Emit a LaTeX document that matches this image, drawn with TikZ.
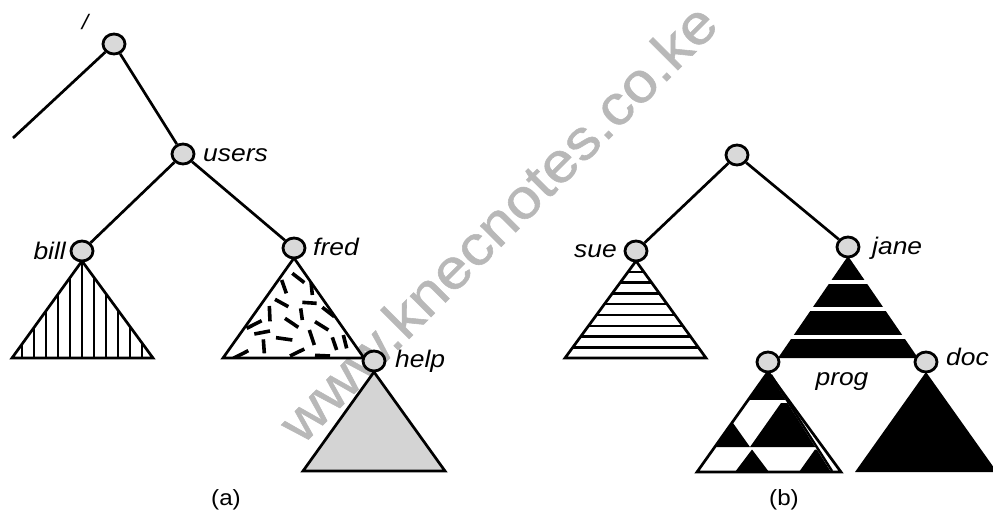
\documentclass[tikz,border=0pt]{standalone}
\usepackage{fontspec}
\setmainfont{Liberation Sans}
\newfontfamily\lab[FakeStretch=1.1]{Liberation Sans}
\newfontfamily\wmfont[FakeStretch=1.1,FakeBold=1]{Liberation Sans}
\usetikzlibrary{shapes.geometric}
\tikzset{
 vert/.style={ellipse, draw=black, fill=black!15, line width=2.8pt, minimum width=22pt, minimum height=20pt, inner sep=0pt},
 edge/.style={line width=2.7pt},
 tri/.style={line width=2.7pt, line join=miter},
 lbl/.style={inner sep=0pt, font=\lab\itshape\fontsize{24}{26}\selectfont},
 capt/.style={inner sep=0pt, font=\lab\fontsize{22}{24}\selectfont},
 hatch/.style={line width=2.4pt},
 dashmark/.style={line width=3.6pt},
 wmark/.style={inner sep=0pt, text=black!28, font=\wmfont\fontsize{56}{56}\selectfont},
}
\begin{document}
\begin{tikzpicture}[x=1pt,y=-1pt]
\useasboundingbox (0,0) rectangle (993,520);
\fill[white] (0,0) rectangle (993,520);
% watermark
\node[wmark, rotate=45, anchor=base west] (wm) at (302,446) {www.knecnotes.co.ke};

% ---- (a) bill subtree: vertical hatching
\begin{scope}
\clip (82,261) -- (12,358) -- (153,358) -- cycle;
\foreach \k in {-6,...,6} \draw[hatch] ({82+12*\k},250) -- ({82+12*\k},362);
\end{scope}
\draw[tri] (82,261) -- (12,358) -- (153,358) -- cycle;

% ---- fred subtree: random dashes
\begin{scope}
\clip (294,258) -- (223,358) -- (364,358) -- cycle;
\begin{scope}[shift={(215,250)}, scale=1/3]
\foreach \a/\b/\c/\d in {232/70/268/98, 200/90/214/130, 288/95/292/135, 180/148/220/170, 163/168/165/214, 262/157/305/160, 257/175/262/210, 322/172/358/200, 210/205/250/232, 95/235/140/212, 300/215/340/240, 283/240/298/285, 118/252/165/243, 183/263/232/270, 145/268/148/310, 352/262/365/300, 385/255/395/295, 55/325/100/302, 225/318/268/297, 300/316/345/318}
  \draw[dashmark] (\a,\b) -- (\c,\d);
\end{scope}
\end{scope}
\draw[tri] (294,258) -- (223,358) -- (364,358) -- cycle;

% ---- help subtree: grey
\draw[tri, fill=black!17] (374,372) -- (303,471) -- (445,471) -- cycle;

% ---- (b) sue subtree: horizontal hatching
\begin{scope}
\clip (636,261) -- (565,358) -- (706,358) -- cycle;
\foreach \k in {0,...,7} \draw[hatch] (560,{271.7+10.8*\k}) -- (712,{271.7+10.8*\k});
\end{scope}
\draw[tri] (636,261) -- (565,358) -- (706,358) -- cycle;

% ---- jane subtree: black with white bands
\fill[black] (848,256) -- (778,358) -- (918,358) -- cycle;
\fill[white] (770,279.7) rectangle (930,283.7);
\fill[white] (770,307.3) rectangle (930,311.3);
\fill[white] (770,334.7) rectangle (930,338.7);

% ---- prog subtree: chequered
\fill[white] (768,372) -- (697,472) -- (841,472) -- cycle;
\begin{scope}
\clip (768,372) -- (697,472) -- (831,472) -- cycle;
\fill[black] (690,360) rectangle (850,400);
\fill[black] (781,403) -- (750,447) -- (850,447) -- (850,403) -- cycle;
\fill[black] (733,423) -- (750,447) -- (690,447) -- (690,423) -- cycle;
\fill[black] (752,449.5) -- (735,472) -- (769,472) -- cycle;
\fill[black] (815,449.5) -- (799,472) -- (850,472) -- (850,449.5) -- cycle;
\end{scope}
\draw[line width=2.4pt] (771,375) -- (832,471);
\draw[tri] (768,372) -- (697,472) -- (841,472) -- cycle;

% ---- doc subtree: black
\fill[black] (926,372) -- (855,472) -- (997,472) -- cycle;

% ---- directory nodes
\node[vert] (root) at (114,44) {};
\node[vert] (users) at (183,154) {};
\node[vert] (bill) at (82,251) {};
\node[vert] (fred) at (294,248) {};
\node[vert] (help) at (374,361) {};
\node[vert] (rootb) at (737,155) {};
\node[vert] (sue) at (636,251) {};
\node[vert] (jane) at (848,247) {};
\node[vert] (prog) at (768,362) {};
\node[vert] (doc) at (926,362) {};
\coordinate (lft) at (13,138);

% ---- connectors
\draw[edge] (root) -- (lft);
\draw[edge] (root) -- (users);
\draw[edge] (users) -- (bill);
\draw[edge] (users) -- (fred);
\draw[edge] (rootb) -- (sue);
\draw[edge] (rootb) -- (jane);

% ---- labels
\node[lbl, font=\lab\itshape\fontsize{21}{21}\selectfont] (lroot) at (85,22) {/};
\node[lbl, anchor=base west] (lusers) at (203,161) {users};
\node[lbl, anchor=base east] (lbill) at (66,259) {bill};
\node[lbl, anchor=base west] (lfred) at (313,255) {fred};
\node[lbl, anchor=base west] (lhelp) at (395,367) {help};
\node[lbl, anchor=base east] (lsue) at (617,257) {sue};
\node[lbl, anchor=base west] (ljane) at (872,254) {jane};
\node[lbl, anchor=base] (lprog) at (842,385) {prog};
\node[lbl, anchor=base west] (ldoc) at (946,365) {doc};
\node[capt, anchor=base] (capa) at (226,505) {(a)};
\node[capt, anchor=base] (capb) at (784,505) {(b)};
\end{tikzpicture}
\end{document}
